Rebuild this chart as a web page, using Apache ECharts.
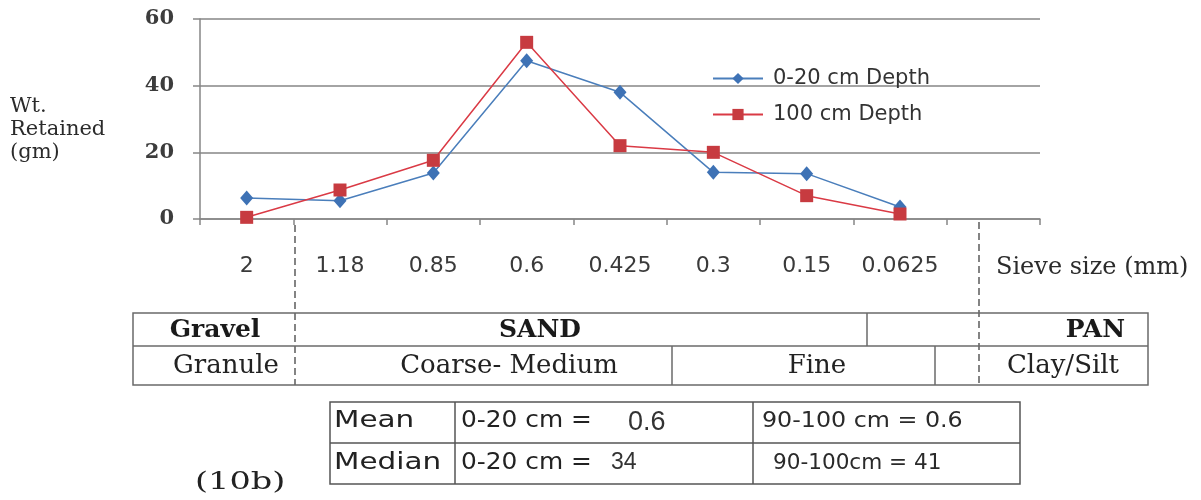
<!DOCTYPE html>
<html><head><meta charset="utf-8">
<script src="https://cdn.jsdelivr.net/npm/echarts@6/dist/echarts.min.js"></script>
<style>html,body{margin:0;padding:0;background:#fff}#c{width:1201px;height:500px}</style>
</head><body><div id="c"></div>
<script>
// ---- data ----
const sieveSizes = ['2', '1.18', '0.85', '0.6', '0.425', '0.3', '0.15', '0.0625', ''];
const seriesNames = ['0-20 cm Depth', '100 cm Depth'];
const wtDepth0to20 = [6.3, 5.5, 13.8, 47.5, 38, 14, 13.6, 3.6, null];
const wtDepth100 = [0.5, 8.7, 17.6, 53, 22, 20, 7, 1.5, null];
const yAxisName = ['Wt.', 'Retained', '(gm)'];
const xAxisName = 'Sieve size (mm)';
const classRow1 = ['Gravel', 'SAND', '', 'PAN'];
const classRow2 = ['Granule', 'Coarse- Medium', 'Fine', '', 'Clay/Silt'];
const statLabels = ['Mean', 'Median'];
const stat0to20 = ['0.6', '34'];
const stat90to100 = ['90-100 cm = 0.6', '90-100cm = 41'];
const figLabel = '(10b)';

// ---- layout helpers ----
const SERIF = '"DejaVu Serif", "Liberation Serif", serif';
const SANS = '"DejaVu Sans", "Liberation Sans", sans-serif';
function txt(text, x, y, font, opts) {
  opts = opts || {};
  return {
    type: 'text', x: x, y: y, scaleX: opts.sx || 1, z: 10,
    style: { text: text, x: 0, y: 0, font: font, fill: opts.fill || '#222',
      align: opts.align || 'center', verticalAlign: 'middle' }
  };
}
function ln(x1, y1, x2, y2, opts) {
  opts = opts || {};
  return { type: 'line', z: 5, shape: { x1: x1, y1: y1, x2: x2, y2: y2 },
    style: { stroke: opts.stroke || '#6a6a6a', lineWidth: opts.w || 1.5, lineDash: opts.dash || null } };
}

const g = [];
// y-axis name
yAxisName.forEach((t, i) => g.push(txt(t, 10, 107 + i * 23, '21px ' + SERIF, { align: 'left', fill: '#2b2b2b' })));
// x-axis name
g.push(txt(xAxisName, 996, 268, '24px ' + SERIF, { align: 'left', fill: '#2b2b2b' }));
// dashed separators
g.push(ln(295, 225, 295, 385, { dash: [7, 4], w: 1.2, stroke: '#333' }));
g.push(ln(979, 222, 979, 385, { dash: [7, 4], w: 1.2, stroke: '#333' }));
// classification table
g.push({ type: 'rect', z: 5, shape: { x: 133, y: 313, width: 1015, height: 72 }, style: { fill: 'none', stroke: '#6a6a6a', lineWidth: 1.5 } });
g.push(ln(133, 346, 1148, 346));
g.push(ln(867, 313, 867, 346));
g.push(ln(672, 346, 672, 385));
g.push(ln(935, 346, 935, 385));
const r1x = [215, 540, 923, 1125];
const r1a = ['center', 'center', 'center', 'right'];
classRow1.forEach((t, i) => g.push(txt(t, r1x[i], 330, 'bold 25px ' + SERIF, { align: r1a[i], fill: '#1a1a1a' })));
const r2x = [226, 509, 817, 957, 1063];
classRow2.forEach((t, i) => g.push(txt(t, r2x[i], 366, '26px ' + SERIF, { fill: '#222' })));
// stats table
g.push({ type: 'rect', z: 5, shape: { x: 330, y: 402, width: 690, height: 82 }, style: { fill: 'none', stroke: '#555', lineWidth: 1.5 } });
g.push(ln(330, 443, 1020, 443, { stroke: '#555' }));
g.push(ln(455, 402, 455, 484, { stroke: '#555' }));
g.push(ln(753, 402, 753, 484, { stroke: '#555' }));
statLabels.forEach((t, i) => {
  const y = 421 + i * 42;
  g.push(txt(t, 334, y, '23px ' + SANS, { align: 'left', sx: 1.28 }));
  g.push(txt('0-20 cm =', 461, y, '23px ' + SANS, { align: 'left', sx: 1.08 }));
  g.push(txt(stat0to20[i], i === 0 ? 628 : 611, y + (i === 0 ? 2 : 0), (i === 0 ? '27px ' : '23px ') + '"Liberation Sans", sans-serif', { align: 'left', fill: '#333' }));
  g.push(txt(stat90to100[i], i === 0 ? 762 : 773, y, '22px ' + SANS, { align: 'left', sx: i === 0 ? 1.08 : 0.98, fill: '#2a2a2a' }));
});
g.push(txt(figLabel, 195, 482, '25px ' + SERIF, { align: 'left', sx: 1.34, fill: '#222' }));

const chart = echarts.init(document.getElementById('c'), null, { renderer: 'canvas' });
chart.setOption({
  animation: false,
  backgroundColor: '#fff',
  grid: { left: 200, right: 161, top: 19, bottom: 281 },
  legend: {
    left: 712, top: 68, padding: 0, orient: 'vertical', itemWidth: 50, itemHeight: 14, itemGap: 15,
    textStyle: { fontFamily: 'DejaVu Sans', fontSize: 21, color: '#333', padding: [0, 0, 0, 5] },
    data: seriesNames
  },
  xAxis: {
    type: 'category', data: sieveSizes, boundaryGap: true,
    axisLine: { lineStyle: { color: '#868686', width: 1.5 } },
    axisTick: { show: true, length: 6, lineStyle: { color: '#868686', width: 1.5 } },
    axisLabel: { margin: 36, fontFamily: 'DejaVu Sans', fontSize: 22, color: '#3a3a3a', interval: 0 },
    splitLine: { show: false }
  },
  yAxis: {
    type: 'value', min: 0, max: 60, interval: 20,
    axisLine: { show: true, lineStyle: { color: '#868686', width: 1.5 } },
    axisTick: { show: true, length: 7, lineStyle: { color: '#868686', width: 1.5 } },
    axisLabel: { margin: 26, fontFamily: 'DejaVu Serif', fontSize: 21, fontWeight: 'bold', color: '#3c3c3c' },
    splitLine: { lineStyle: { color: '#868686', width: 1.5 } }
  },
  series: [
    { name: seriesNames[0], type: 'line', data: wtDepth0to20, symbol: 'diamond', symbolSize: [13, 15],
      lineStyle: { color: '#4A7EBB', width: 1.5 }, itemStyle: { color: '#3E72B5' }, z: 3 },
    { name: seriesNames[1], type: 'line', data: wtDepth100, symbol: 'rect', symbolSize: 13,
      lineStyle: { color: '#DA3A45', width: 1.5 }, itemStyle: { color: '#C73B40' }, z: 4 }
  ],
  graphic: g
});
</script>
</body></html>
